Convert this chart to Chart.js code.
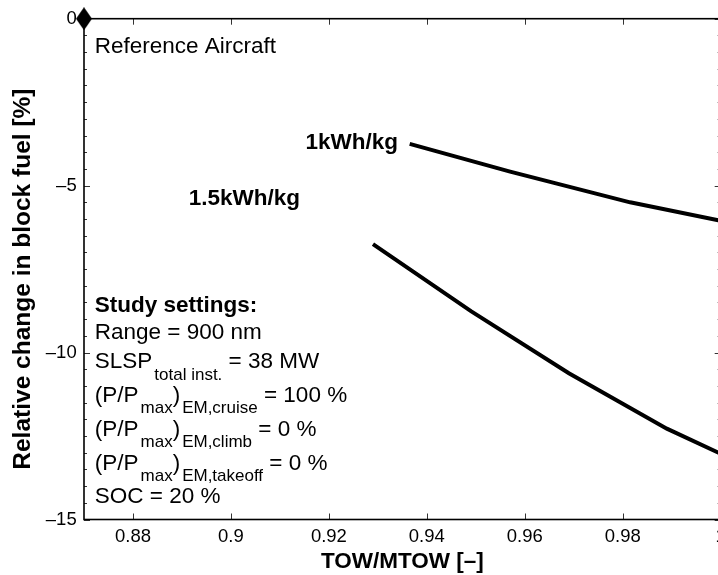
<!DOCTYPE html>
<html lang="en">
<head>
<meta charset="UTF-8" />
<title>Block fuel vs TOW/MTOW</title>
<script src="https://cdn.jsdelivr.net/npm/chart.js"></script>
<style>
  html, body { margin: 0; padding: 0; background: #fff; overflow: hidden; }
  #wrap { width: 740px; height: 575px; }
</style>
</head>
<body>
<div id="wrap"><canvas id="chart" width="740" height="575"></canvas></div>

<script>
  // battery energy density curves, TOW/MTOW vs relative block fuel change [%]
  const kwh1X = [0.9365, 0.957, 0.9815, 1.0];
  const kwh1Y = [-3.75, -4.58, -5.50, -6.05];
  const kwh15X = [0.929, 0.949, 0.969, 0.989, 1.0];
  const kwh15Y = [-6.75, -8.76, -10.62, -12.28, -13.03];
  // reference aircraft marker
  const refX = [0.87];
  const refY = [0];

  const xRange = [0.87, 1.0];
  const yRange = [-15, 0];
  const xStep = 0.02;
  const yStep = 5;
  const yMinorStep = 0.5;

  const xTitle = 'TOW/MTOW [–]';
  const yTitle = 'Relative change in block fuel [%]';
  const curveLabels = ['1kWh/kg', '1.5kWh/kg'];
  const settingsLines = [
    'Study settings:',
    'Range = 900 nm',
    'SLSP_{total inst.} = 38 MW',
    '(P/P_{max})_{EM,cruise} = 100 %',
    '(P/P_{max})_{EM,climb} = 0 %',
    '(P/P_{max})_{EM,takeoff} = 0 %',
    'SOC = 20 %'
  ];

  const FAMILY = '"Liberation Sans", Arial, Helvetica, sans-serif';
  const TXT = 22.5, SUB = 17, SUB_DROP = 11.7;

  // text anchors in data units (left edge, baseline)
  const notes = [
    { text: 'Reference Aircraft', x: 0.8722, y: -1.04, bold: false },
    { text: curveLabels[0], x: 0.9152, y: -3.91, bold: true },
    { text: curveLabels[1], x: 0.8914, y: -5.58, bold: true }
  ];
  const settingsX = 0.8722;
  const settingsY = [-8.77, -9.60, -10.47, -11.47, -12.49, -13.51, -14.51];

  Chart.defaults.font.family = FAMILY;
  Chart.defaults.color = '#000';

  function toPoints(xs, ys) {
    return xs.map((x, i) => ({ x: x, y: ys[i] }));
  }

  // MATLAB style diamond marker
  function diamond(w, h) {
    const c = document.createElement('canvas');
    c.width = w; c.height = h;
    const g = c.getContext('2d');
    g.fillStyle = '#000';
    g.beginPath();
    g.moveTo(w / 2, 0);
    g.lineTo(w, h / 2);
    g.lineTo(w / 2, h);
    g.lineTo(0, h / 2);
    g.closePath();
    g.fill();
    return c;
  }

  // draws a line with _{...} subscripts
  function drawTex(ctx, str, x, y, bold) {
    const parts = str.split(/(_\{[^}]*\})/).filter(s => s.length);
    let cx = x;
    parts.forEach(p => {
      const sub = p.startsWith('_{');
      const t = sub ? p.slice(2, -1) : p;
      if (sub) cx += 2;
      ctx.font = (bold ? 'bold ' : '') + (sub ? SUB : TXT) + 'px ' + FAMILY;
      ctx.fillText(t, cx, sub ? y + SUB_DROP : y);
      cx += ctx.measureText(t).width;
    });
  }

  const boxAndTicks = {
    id: 'boxAndTicks',
    beforeDatasetsDraw(chart) {
      const { ctx, chartArea: a, scales: { x, y } } = chart;
      ctx.save();
      ctx.strokeStyle = '#333';
      ctx.lineWidth = 1;
      ctx.beginPath();
      x.ticks.forEach(t => {
        const px = Math.round(x.getPixelForValue(t.value)) + 0.5;
        ctx.moveTo(px, a.bottom); ctx.lineTo(px, a.bottom - 6);
        ctx.moveTo(px, a.top); ctx.lineTo(px, a.top + 6);
      });
      const n = Math.round((y.max - y.min) / yMinorStep);
      for (let k = 0; k <= n; k++) {
        const v = y.min + k * yMinorStep;
        const py = Math.round(y.getPixelForValue(v)) + 0.5;
        const len = (Math.abs(v % yStep) < 1e-9) ? 6 : 3;
        ctx.moveTo(a.left, py); ctx.lineTo(a.left + len, py);
        ctx.moveTo(a.right, py); ctx.lineTo(a.right - len, py);
      }
      ctx.stroke();
      ctx.strokeStyle = '#000';
      ctx.lineWidth = 1.6;
      ctx.strokeRect(a.left, a.top, a.right - a.left, a.bottom - a.top);

      // y axis title, rotated
      ctx.fillStyle = '#000';
      ctx.font = 'bold 24.5px ' + FAMILY;
      ctx.textAlign = 'center';
      ctx.textBaseline = 'middle';
      ctx.translate(23, (a.top + a.bottom) / 2 + 10);
      ctx.rotate(-Math.PI / 2);
      ctx.fillText(yTitle, 0, 0);
      ctx.restore();
    },
    afterDatasetsDraw(chart) {
      const { ctx, scales: { x, y } } = chart;
      ctx.save();
      ctx.fillStyle = '#000';
      ctx.textBaseline = 'alphabetic';
      ctx.textAlign = 'left';
      notes.forEach(n => drawTex(ctx, n.text, x.getPixelForValue(n.x), y.getPixelForValue(n.y), n.bold));
      settingsLines.forEach((line, i) => {
        drawTex(ctx, line, x.getPixelForValue(settingsX), y.getPixelForValue(settingsY[i]), i === 0);
      });
      ctx.restore();
    }
  };

  new Chart(document.getElementById('chart'), {
    type: 'line',
    data: {
      datasets: [
        {
          label: curveLabels[0],
          data: toPoints(kwh1X, kwh1Y),
          borderColor: '#000',
          borderWidth: 4,
          pointRadius: 0,
          tension: 0
        },
        {
          label: curveLabels[1],
          data: toPoints(kwh15X, kwh15Y),
          borderColor: '#000',
          borderWidth: 4,
          pointRadius: 0,
          tension: 0
        },
        {
          label: 'Reference Aircraft',
          data: toPoints(refX, refY),
          showLine: false,
          pointStyle: diamond(16, 23),
          pointRadius: 8,
          clip: false
        }
      ]
    },
    options: {
      responsive: false,
      animation: false,
      devicePixelRatio: 1,
      layout: { padding: { top: 18.7, right: 19.3, bottom: 0, left: 0 } },
      plugins: {
        legend: { display: false },
        tooltip: { enabled: false }
      },
      scales: {
        x: {
          type: 'linear',
          min: xRange[0],
          max: xRange[1],
          grid: { display: false, drawTicks: false },
          border: { display: false },
          ticks: {
            stepSize: xStep,
            includeBounds: false,
            padding: 6.4,
            font: { size: 18.5 },
            maxRotation: 0,
            callback: v => String(+v.toFixed(2))
          },
          title: {
            display: true,
            text: xTitle,
            font: { size: 22.5, weight: 'bold', lineHeight: 1 },
            padding: { top: 0, bottom: 1.8 }
          },
          afterFit(scale) { scale.height = 55.5; }
        },
        y: {
          type: 'linear',
          min: yRange[0],
          max: yRange[1],
          grid: { display: false, drawTicks: false },
          border: { display: false },
          ticks: {
            stepSize: yStep,
            padding: 7.3,
            font: { size: 18.5 },
            callback: v => (v < 0 ? '–' + Math.abs(v) : String(v))
          },
          title: { display: false },
          afterFit(scale) { scale.width = 84; }
        }
      }
    },
    plugins: [boxAndTicks]
  });
</script>
</body>
</html>
